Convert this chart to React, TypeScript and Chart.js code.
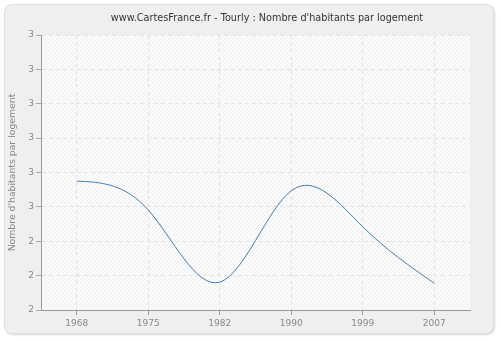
import React, { useEffect, useRef } from "react";
import { Chart, registerables } from "chart.js";

Chart.register(...registerables);

const titleText = "www.CartesFrance.fr - Tourly : Nombre d'habitants par logement";
const yAxisTitle = "Nombre d'habitants par logement";
const years = ["1968", "1975", "1982", "1990", "1999", "2007"];
const habitantsParLogement = [2.575, 2.491, 2.281, 2.547, 2.442, 2.278];
const yMin = 2.2;
const yMax = 3.0;
const yStep = 0.1;

const FONT = "DejaVu Sans";

const hatchPlugin = {
  id: "hatchBg",
  beforeDraw(chart: any) {
    const { ctx, chartArea } = chart;
    const { left, top, right, bottom } = chartArea;
    ctx.save();
    ctx.fillStyle = "#fbfbfb";
    ctx.fillRect(left, top, right - left, bottom - top);
    ctx.beginPath();
    ctx.rect(left, top, right - left, bottom - top);
    ctx.clip();
    ctx.strokeStyle = "#efefef";
    ctx.lineWidth = 1;
    const h = bottom - top;
    for (let x = left - h; x < right + h; x += 4) {
      ctx.beginPath();
      ctx.moveTo(x, bottom);
      ctx.lineTo(x + h, top);
      ctx.stroke();
    }
    ctx.restore();
  },
};

const titlePlugin = {
  id: "customTitle",
  afterDraw(chart: any) {
    const { ctx } = chart;
    ctx.save();
    ctx.font = `9.7px '${FONT}'`;
    ctx.fillStyle = "#333333";
    ctx.textAlign = "center";
    ctx.textBaseline = "middle";
    ctx.fillText(titleText, 267, 18);
    ctx.restore();
  },
};

// natural cubic spline through the plotted points (as the reference uses)
const naturalSplinePlugin = {
  id: "naturalSpline",
  beforeDatasetDraw(chart: any, args: any) {
    const meta = args.meta;
    const line = meta.dataset;
    const pts = meta.data;
    if (!line || !pts || pts.length < 3) return;
    if (typeof line.updateControlPoints === "function") {
      line.updateControlPoints(chart.chartArea, meta.indexAxis);
    }
    const n = pts.length;
    const xs = pts.map((p: any) => p.x);
    const ys = pts.map((p: any) => p.y);
    const h: number[] = [];
    for (let i = 0; i < n - 1; i++) h.push(xs[i + 1] - xs[i]);
    // solve tridiagonal for second derivatives M (M0 = Mn-1 = 0)
    const M = new Array(n).fill(0);
    const m = n - 2;
    const a: number[] = [], b: number[] = [], c: number[] = [], d: number[] = [];
    for (let i = 1; i <= m; i++) {
      a.push(h[i - 1]);
      b.push(2 * (h[i - 1] + h[i]));
      c.push(h[i]);
      d.push(6 * ((ys[i + 1] - ys[i]) / h[i] - (ys[i] - ys[i - 1]) / h[i - 1]));
    }
    const cp: number[] = [], dp: number[] = [];
    for (let i = 0; i < m; i++) {
      const denom = b[i] - (i > 0 ? a[i] * cp[i - 1] : 0);
      cp.push(c[i] / denom);
      dp.push((d[i] - (i > 0 ? a[i] * dp[i - 1] : 0)) / denom);
    }
    for (let i = m - 1; i >= 0; i--) {
      M[i + 1] = dp[i] - (i < m - 1 ? cp[i] * M[i + 2] : 0);
    }
    const slope: number[] = [];
    for (let i = 0; i < n; i++) {
      if (i < n - 1) {
        slope.push((ys[i + 1] - ys[i]) / h[i] - (h[i] * (2 * M[i] + M[i + 1])) / 6);
      } else {
        slope.push((ys[i] - ys[i - 1]) / h[i - 1] + (h[i - 1] * (M[i - 1] + 2 * M[i])) / 6);
      }
    }
    for (let i = 0; i < n; i++) {
      const hp = i > 0 ? h[i - 1] : h[0];
      const hn = i < n - 1 ? h[i] : h[n - 2];
      pts[i].cp1x = xs[i] - hp / 3;
      pts[i].cp1y = ys[i] - (slope[i] * hp) / 3;
      pts[i].cp2x = xs[i] + hn / 3;
      pts[i].cp2y = ys[i] + (slope[i] * hn) / 3;
    }
    line._path = undefined;
  },
};

export default function App() {
  const ref = useRef<HTMLCanvasElement | null>(null);
  useEffect(() => {
    if (!ref.current) return;
    const chart = new Chart(ref.current, {
      type: "line",
      data: {
        labels: years,
        datasets: [
          {
            data: habitantsParLogement,
            borderColor: "#4a7cb0",
            borderWidth: 1,
            pointRadius: 0,
            tension: 0.4,
            fill: false,
          },
        ],
      },
      options: {
        animation: false,
        responsive: false,
        layout: { padding: { left: 0, right: 30, top: 35, bottom: 0 } },
        plugins: {
          legend: { display: false },
          tooltip: { enabled: false },
          title: { display: false },
        },
        scales: {
          x: {
            offset: true,
            grid: {
              color: "#e4e4e4",
              tickColor: "#999999",
              tickLength: 5,
              drawOnChartArea: true,
              offset: false,
            },
            border: { display: true, color: "#999999", width: 1, dash: [4, 3] },
            ticks: {
              color: "#888888",
              font: { family: FONT, size: 9 },
              padding: 3,
              maxRotation: 0,
            },
            afterFit(scale: any) {
              scale.height = 30;
            },
          },
          y: {
            min: yMin,
            max: yMax,
            grid: {
              color: "#e4e4e4",
              tickColor: "#aaaaaa",
              tickLength: 5,
            },
            border: { display: true, color: "#999999", width: 1, dash: [4, 3] },
            ticks: {
              stepSize: yStep,
              color: "#888888",
              font: { family: FONT, size: 9 },
              padding: 2,
              callback: (v: any) => String(Math.round(Number(v))),
            },
            title: {
              display: true,
              text: yAxisTitle,
              color: "#888888",
              font: { family: FONT, size: 9.3 },
              padding: { top: 7, bottom: 0 },
            },
            afterFit(scale: any) {
              scale.width = 41;
            },
          },
        },
      },
      plugins: [hatchPlugin, naturalSplinePlugin, titlePlugin],
    } as any);
    return () => chart.destroy();
  }, []);

  return (
    <div style={{ position: "fixed", left: 0, top: 0, width: 500, height: 340, background: "#ffffff" }}>
      <div
        style={{
          position: "absolute",
          left: 4,
          top: 4,
          width: 488,
          height: 328,
          background: "#efefef",
          border: "1px solid #e0e0e0",
          borderRadius: 8,
          boxShadow: "1px 1px 2px #d8d8d8",
        }}
      />
      <canvas ref={ref} width={500} height={340} style={{ position: "absolute", left: 0, top: 0 }} />
    </div>
  );
}
